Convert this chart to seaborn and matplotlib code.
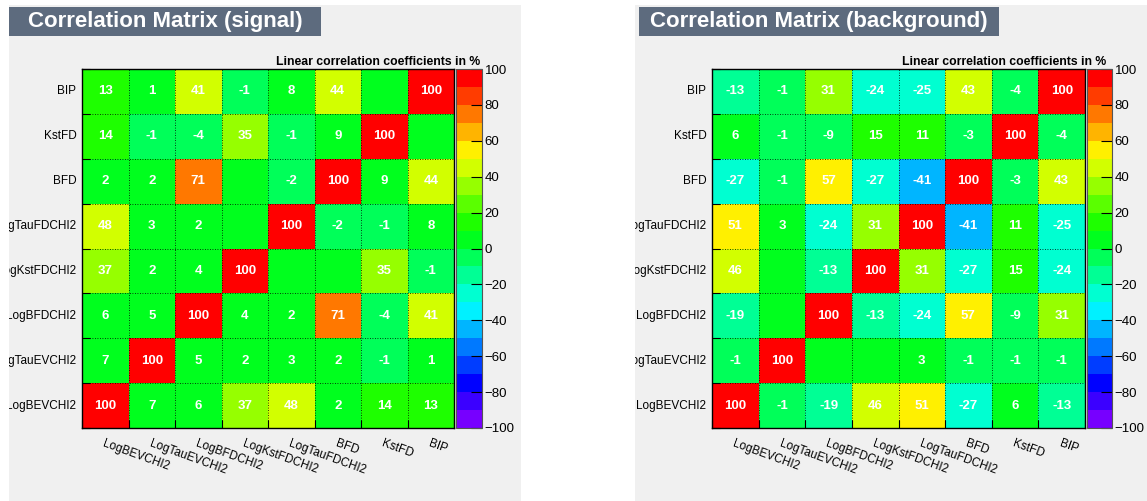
import numpy as np
import matplotlib
matplotlib.use('Agg')
import matplotlib.pyplot as plt
import seaborn as sns
from matplotlib.colors import ListedColormap, hsv_to_rgb
from matplotlib.patches import Rectangle
from matplotlib.transforms import Bbox, TransformedBbox

# input variables, in histogram bin order (x left->right, y bottom->top)
variables = ['LogBEVCHI2', 'LogTauEVCHI2', 'LogBFDCHI2', 'LogKstFDCHI2',
             'LogTauFDCHI2', 'BFD', 'KstFD', 'BIP']

# linear correlation coefficients in %, corr[i][j] = corr(var i, var j)
signal_corr = [
    [100,   7,   6,  37,  48,   2,  14,  13],
    [  7, 100,   5,   2,   3,   2,  -1,   1],
    [  6,   5, 100,   4,   2,  71,  -4,  41],
    [ 37,   2,   4, 100,   0,   0,  35,  -1],
    [ 48,   3,   2,   0, 100,  -2,  -1,   8],
    [  2,   2,  71,   0,  -2, 100,   9,  44],
    [ 14,  -1,  -4,  35,  -1,   9, 100,   0],
    [ 13,   1,  41,  -1,   8,  44,   0, 100],
]
background_corr = [
    [100,  -1, -19,  46,  51, -27,   6, -13],
    [ -1, 100,   0,   0,   3,  -1,  -1,  -1],
    [-19,   0, 100, -13, -24,  57,  -9,  31],
    [ 46,   0, -13, 100,  31, -27,  15, -24],
    [ 51,   3, -24,  31, 100, -41,  11, -25],
    [-27,  -1,  57, -27, -41, 100,  -3,  43],
    [  6,  -1,  -9,  15,  11,  -3, 100,  -4],
    [-13,  -1,  31, -24, -25,  43,  -4, 100],
]

titles = ['Correlation Matrix (signal)', 'Correlation Matrix (background)']
z_title = 'Linear correlation coefficients in %'
cbar_ticks = list(range(-100, 101, 20))

plt.rcParams['font.family'] = ['Liberation Sans', 'DejaVu Sans']

# ROOT-like rainbow palette, 20 contours violet -> red
n_cont = 20
hues = np.linspace(268, 0, n_cont) / 360
palette = ListedColormap(hsv_to_rgb(np.column_stack([hues, np.ones(n_cont), np.ones(n_cont)])))

W, H = 1147, 501
fig = plt.figure(figsize=(W / 100, H / 100), dpi=100)

def fx(px):
    return px / W

def fy(py):
    return 1 - py / H

# pixel layout of each canvas: pad, title box, frame, palette, z title end
layout = [
    dict(pad=(9, 521), tbox=(9, 321), frame=(82, 454), cbar=(456, 482), zend=480),
    dict(pad=(635, 1147), tbox=(639, 999), frame=(712, 1085), cbar=(1087, 1112), zend=1106),
]
top, bottom = 69, 428

for corr, title, lay in zip([signal_corr, background_corr], titles, layout):
    p0, p1 = lay['pad']
    fig.patches.append(Rectangle((fx(p0), 0), fx(p1 - p0), fy(5), transform=fig.transFigure,
                                 facecolor='#f0f0f0', edgecolor='none', zorder=-2))
    t0, t1 = lay['tbox']
    fig.patches.append(Rectangle((fx(t0), fy(36)), fx(t1 - t0), 29 / H, transform=fig.transFigure,
                                 facecolor='#5d6b7e', edgecolor='none', zorder=-1))
    fig.text(fx((t0 + t1) / 2), fy(21.5), title, ha='center', va='center',
             color='white', fontweight='bold', fontsize=16)

    h0, h1 = lay['frame']
    c0, c1 = lay['cbar']
    ax = fig.add_axes([fx(h0), fy(bottom), fx(h1 - h0), (bottom - top) / H])
    cax = fig.add_axes([fx(c0), fy(bottom), fx(c1 - c0), (bottom - top) / H])

    data = np.array(corr)[::-1]
    labels = np.where(data == 0, '', data.astype(str))
    sns.heatmap(data, ax=ax, cbar_ax=cax, cmap=palette, vmin=-100, vmax=100,
                annot=labels, fmt='',
                annot_kws=dict(color='white', fontweight='bold', fontsize=9.5),
                xticklabels=variables, yticklabels=variables[::-1],
                cbar_kws=dict(ticks=cbar_ticks))

    for s in ax.spines.values():
        s.set_visible(True)
        s.set_color('black')
        s.set_linewidth(1)
    ax.set_xticks(np.arange(0, 9), minor=True)
    ax.set_yticks(np.arange(0, 9), minor=True)
    ax.tick_params(which='minor', direction='in', length=6, width=0.8, color='black',
                   bottom=True, left=True, top=False, right=False)
    ax.tick_params(which='major', length=0)
    ax.tick_params(axis='x', which='major', pad=7)
    ax.tick_params(axis='y', which='major', pad=4)
    ax.grid(which='minor', color='black', linestyle=(0, (1, 2)), linewidth=0.6)
    ax.set_axisbelow(False)
    ax.set_xticklabels(variables, rotation=-20, ha='left', va='top',
                       rotation_mode='anchor', fontsize=8.5)
    ax.set_yticklabels(variables[::-1], rotation=0, fontsize=8.5)

    cbar = ax.collections[0].colorbar
    cbar.outline.set_edgecolor('#555555')
    cbar.outline.set_linewidth(0.8)
    cax.tick_params(direction='in', length=8, width=0.8, color='black',
                    labelsize=9.5, pad=2)
    cax.minorticks_off()

    fig.text(fx(lay['zend']), fy(62), z_title, ha='right', va='center',
             fontsize=8.8, fontweight='bold')

    lay['ax'] = ax

fig.canvas.draw()
for lay in layout:
    p0, p1 = lay['pad']
    clip = TransformedBbox(Bbox([[fx(p0), 0], [fx(p1), 1]]), fig.transFigure)
    for lbl in lay['ax'].get_yticklabels():
        lbl.set_clip_box(clip)
        lbl.set_clip_on(True)

fig.savefig('out.png', dpi=100)
